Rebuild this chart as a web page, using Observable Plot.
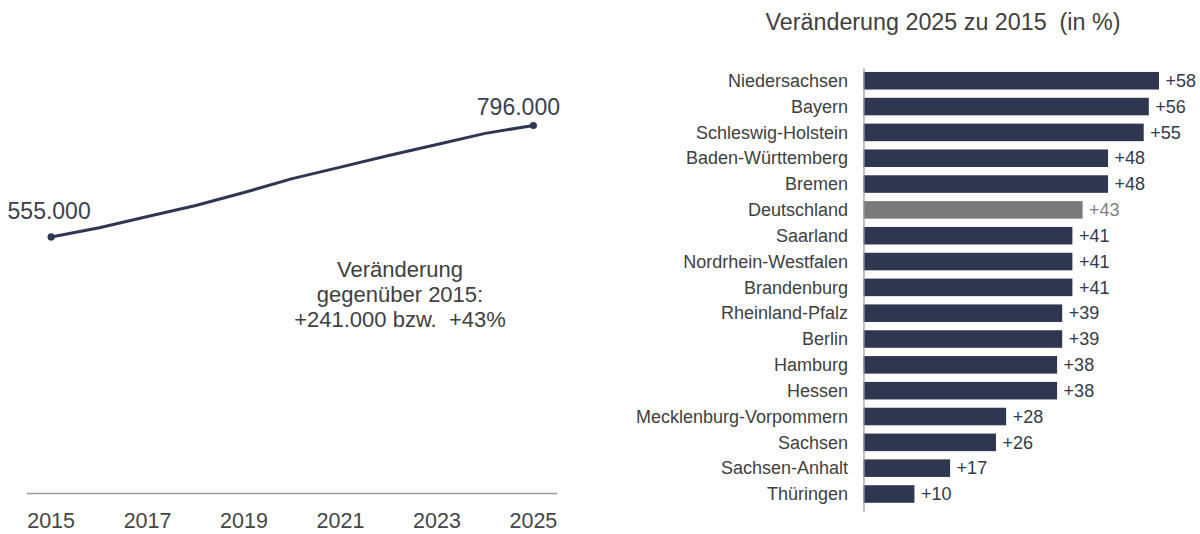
<!DOCTYPE html>
<html>
<head>
<meta charset="utf-8">
<script src="https://cdn.jsdelivr.net/npm/d3@7"></script>
<script src="https://cdn.jsdelivr.net/npm/@observablehq/plot@0.6"></script>
<style>
  html, body { margin: 0; padding: 0; background: #ffffff; }
  #wrap { position: relative; width: 1200px; height: 534px; overflow: hidden; font-family: Arial, "Liberation Sans", sans-serif; }
  #left, #right { position: absolute; top: 0; }
  #left { left: 0; }
  #right { left: 600px; }
  #title { position: absolute; left: 743px; width: 400px; top: 11px; text-align: center; font-size: 23.3px; line-height: 22px; color: #404040; white-space: pre; }
  #note { position: absolute; left: 250px; width: 300px; top: 257px; text-align: center; font-size: 22px; line-height: 25px; color: #404040; white-space: pre; }
</style>
</head>
<body>
<div id="wrap">
  <div id="left"></div>
  <div id="right"></div>
  <div id="title"></div>
  <div id="note"></div>
</div>
<script>
// ---- Data: left line chart ----
const years = [2015, 2016, 2017, 2018, 2019, 2020, 2021, 2022, 2023, 2024, 2025];
const values = [555000, 575000, 599000, 623000, 651000, 681000, 706000, 731000, 755000, 779000, 796000];
const yearTicks = [2015, 2017, 2019, 2021, 2023, 2025];
const noteLines = ["Veränderung", "gegenüber 2015:", "+241.000 bzw.  +43%"];

// ---- Data: right bar chart ----
const chartTitle = "Veränderung 2025 zu 2015  (in %)";
const states = ["Niedersachsen", "Bayern", "Schleswig-Holstein", "Baden-Württemberg", "Bremen", "Deutschland",
  "Saarland", "Nordrhein-Westfalen", "Brandenburg", "Rheinland-Pfalz", "Berlin", "Hamburg", "Hessen",
  "Mecklenburg-Vorpommern", "Sachsen", "Sachsen-Anhalt", "Thüringen"];
const changes = [58, 56, 55, 48, 48, 43, 41, 41, 41, 39, 39, 38, 38, 28, 26, 17, 10];
const highlight = "Deutschland";

// ---- Styles ----
const navy = "#2f3750";
const gray = "#7a7a7a";
const fontFamily = 'Arial, "Liberation Sans", sans-serif';

const de = d3.formatLocale({decimal: ",", thousands: ".", grouping: [3], currency: ["", " €"]});
const fmt = de.format(",");

const lineData = years.map((year, i) => ({year, value: values[i]}));
const ends = [lineData[0], lineData[lineData.length - 1]];

const left = Plot.plot({
  width: 600, height: 534,
  marginLeft: 27, marginRight: 43, marginTop: 125, marginBottom: 41,
  style: {fontFamily, background: "transparent", overflow: "visible"},
  x: {domain: [2014.51, 2025.5], label: null},
  y: {domain: [0, 796000], axis: null, label: null},
  marks: [
    Plot.ruleY([0], {stroke: "#9a9a9a", strokeWidth: 1.3}),
    Plot.axisX({ticks: yearTicks, tickFormat: d => String(d), tickSize: 0, tickPadding: 19, fontSize: 21.5, fill: "#454545", label: null}),
    Plot.line(lineData, {x: "year", y: "value", stroke: navy, strokeWidth: 3}),
    Plot.dot(ends, {x: "year", y: "value", r: 3.6, fill: navy}),
    Plot.text([ends[0]], {x: "year", y: "value", text: d => fmt(d.value), lineAnchor: "bottom", dy: -18, dx: -2, fontSize: 23, fill: "#3b4050"}),
    Plot.text([ends[1]], {x: "year", y: "value", text: d => fmt(d.value), lineAnchor: "bottom", dx: -15, dy: -11, fontSize: 23, fill: "#3b4050"})
  ]
});
document.getElementById("left").appendChild(left);

const rows = states.map((state, i) => ({state, change: changes[i]}));

const right = Plot.plot({
  width: 600, height: 534,
  marginLeft: 263.5, marginRight: 41, marginTop: 68, marginBottom: 22,
  style: {fontFamily, background: "transparent", overflow: "visible"},
  x: {domain: [0, 58], axis: null},
  y: {domain: states, paddingInner: 0.32, paddingOuter: 0.255, align: 0.3, round: false, label: null},
  marks: [
    Plot.barX(rows, {filter: d => d.state !== highlight, x: "change", y: "state", fill: navy}),
    Plot.barX(rows, {filter: d => d.state === highlight, x: "change", y: "state", fill: gray}),
    Plot.ruleX([0], {stroke: "#9a9a9a", strokeWidth: 1.2}),
    Plot.axisY({tickSize: 0, tickPadding: 16, fontSize: 18, fill: "#404040", label: null}),
    Plot.text(rows, {filter: d => d.state !== highlight, x: "change", y: "state", text: d => "+" + d.change, dx: 6, textAnchor: "start", fontSize: 18, fill: "#333a4a"}),
    Plot.text(rows, {filter: d => d.state === highlight, x: "change", y: "state", text: d => "+" + d.change, dx: 6, textAnchor: "start", fontSize: 18, fill: "#808080"})
  ]
});
document.getElementById("right").appendChild(right);

document.getElementById("title").textContent = chartTitle;
document.getElementById("note").textContent = noteLines.join("\n");
</script>
</body>
</html>
